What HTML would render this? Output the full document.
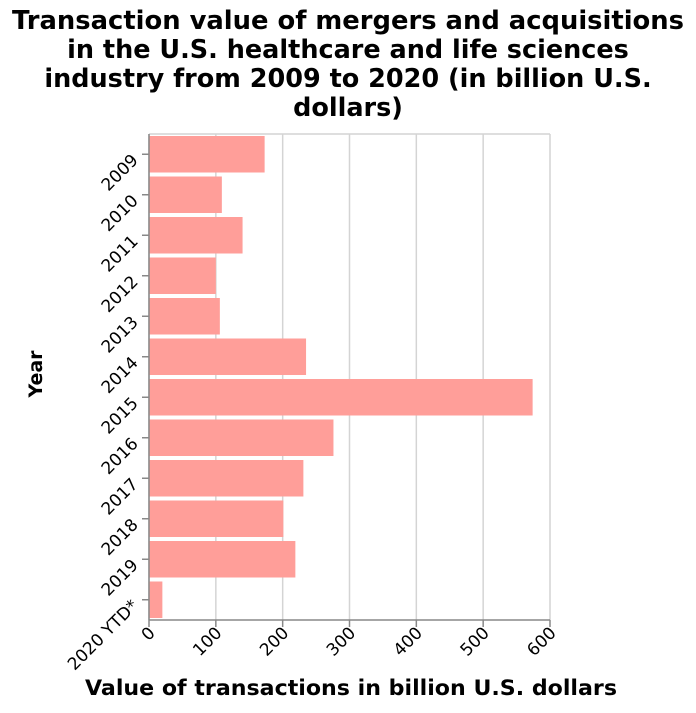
<!DOCTYPE html>
<html><head><meta charset="utf-8"><style>
body{margin:0;background:#fff;}
svg text{font-family:"DejaVu Sans","Liberation Sans",sans-serif;fill:#000;}
</style></head><body>
<svg id="chart" width="696" height="708">
<g font-weight="bold" font-size="25.5" text-anchor="middle">
<text x="348" y="29" textLength="672" lengthAdjust="spacingAndGlyphs">Transaction value of mergers and acquisitions</text>
<text x="348" y="58">in the U.S. healthcare and life sciences</text>
<text x="348" y="87">industry from 2009 to 2020 (in billion U.S.</text>
<text x="348" y="116">dollars)</text>
</g>
<g id="grid"></g><g id="bars"></g><g id="axes"></g>
<text x="351" y="695" text-anchor="middle" font-weight="bold" font-size="21" textLength="532" lengthAdjust="spacingAndGlyphs">Value of transactions in billion U.S. dollars</text>
<text transform="translate(42,374) rotate(-90)" text-anchor="middle" font-weight="bold" font-size="19">Year</text>
</svg>
<script>
const categories=["2009","2010","2011","2012","2013","2014","2015","2016","2017","2018","2019","2020 YTD*"];
const values=[173,109,140,100,106,235,574,276,231,201,219,20];
const xTicks=[0,100,200,300,400,500,600];
const NS="http://www.w3.org/2000/svg";
const L=149,R=550,T=134,B=620;
const x=v=>L+(v/600)*(R-L);
const band=(B-T)/categories.length;
const y=i=>T+i*band;
function mk(t,a,p){const e=document.createElementNS(NS,t);for(const k in a)e.setAttribute(k,a[k]);p.appendChild(e);return e;}
const grid=document.getElementById('grid'),bars=document.getElementById('bars'),axes=document.getElementById('axes');
xTicks.forEach(v=>{
 const g=mk('line',{x1:x(v),x2:x(v),y1:T,y2:B,stroke:'#d4d4d4','stroke-width':1.5},grid);
 
 
 const tk=mk('line',{x1:x(v),x2:x(v),y1:B,y2:B+7,stroke:'#888','stroke-width':1.5},axes);
 
 
 const t=mk('text',{transform:`translate(${x(v)+7},${B+14}) rotate(-45)`,'text-anchor':'end','font-size':17},axes);
 t.textContent=v;
 
 
});
mk('line',{x1:L,x2:R,y1:T,y2:T,stroke:'#d4d4d4','stroke-width':1.5},grid);
categories.forEach((c,i)=>{
 const r=mk('rect',{x:L,y:y(i)+2,width:x(values[i])-L,height:band-4,fill:'#ff9e99'},bars);
 
 
 const cy=y(i)+band/2;
 const tk=mk('line',{x1:L-7,x2:L,y1:cy,y2:cy,stroke:'#888','stroke-width':1.5},axes);
 
 
 const t=mk('text',{transform:`translate(${L-10},${cy+7}) rotate(-45)`,'text-anchor':'end','font-size':17},axes);
 t.textContent=c;
 
 
});
const ax=mk('line',{x1:L,x2:R,y1:B,y2:B,stroke:'#888','stroke-width':1.5},axes);


const ay=mk('line',{x1:L,x2:L,y1:T,y2:B,stroke:'#888','stroke-width':1.5},axes);


</script>
</body></html>
